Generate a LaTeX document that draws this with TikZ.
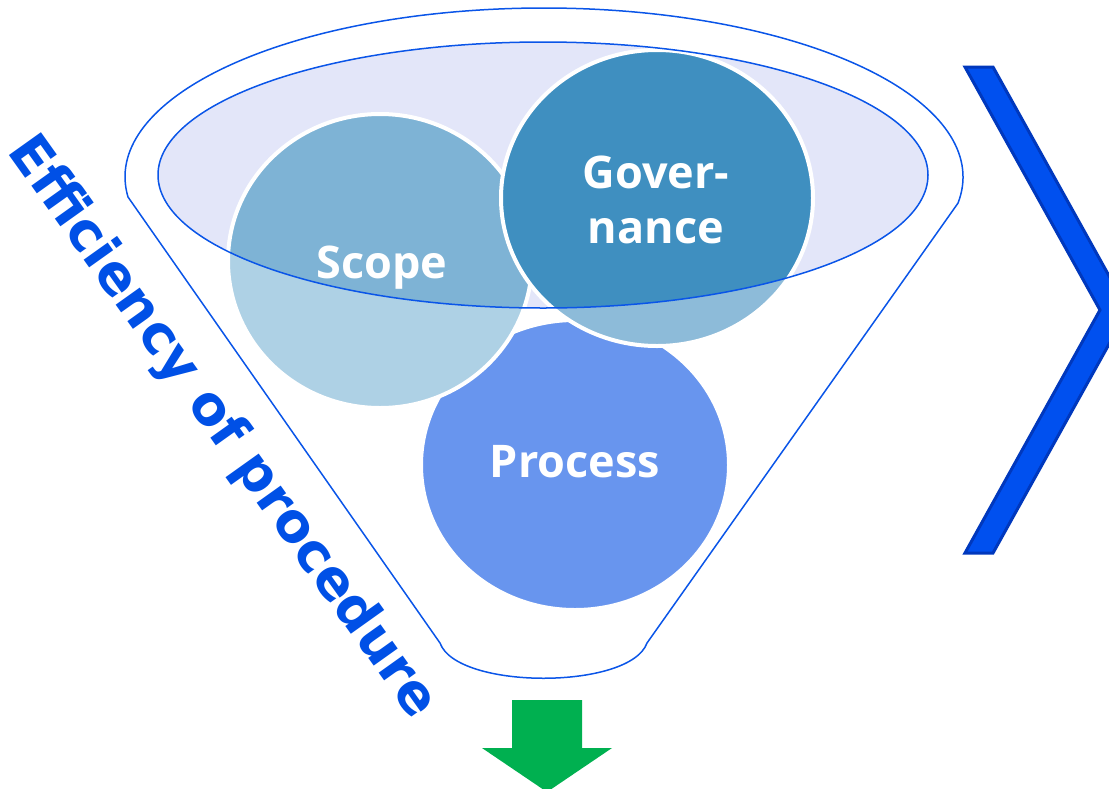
\documentclass[tikz,border=0pt]{standalone}
\usepackage{fontspec}
\setmainfont{Open Sans}
\newfontfamily\sidefont{DejaVu Sans}
\definecolor{lineBlue}{HTML}{0A55E8}
\definecolor{lavender}{HTML}{E3E6F9}
\definecolor{scopeLight}{HTML}{AED1E5}
\definecolor{scopeDark}{HTML}{7EB3D5}
\definecolor{govLight}{HTML}{8DBBD9}
\definecolor{govDark}{HTML}{3F8FC0}
\definecolor{procBlue}{HTML}{6895EE}
\definecolor{chevFill}{HTML}{0050EF}
\definecolor{chevEdge}{HTML}{0038BD}
\definecolor{textBlue}{HTML}{0050E6}
\definecolor{arrowGreen}{HTML}{00B050}
\begin{document}
\begin{tikzpicture}[x=1pt,y=-1pt,
  outline/.style={draw=lineBlue, line width=1.5},
  ring/.style={draw=white, line width=4},
  label text/.style={text=white, font=\bfseries\fontsize{45}{54}\selectfont, inner sep=0pt, anchor=base},
  side text/.style={text=textBlue, font=\sidefont\bfseries\fontsize{54}{64}\selectfont, inner sep=0pt}]
\path[use as bounding box] (0,0) rectangle (1109,788);
\clip (0,0) rectangle (1109,788);

% funnel body: upper rim arc, sloping sides and rounded spout
\coordinate (rimL) at (128,197);
\coordinate (spoutR) at (647,643);
\coordinate (spoutL) at (440,643);
\draw[outline] (rimL) arc[start angle=173.2, end angle=368.9, x radius=419, y radius=169]
  -- (spoutR) .. controls (630,690) and (457,690) .. (spoutL) -- cycle;

% inner mouth of the funnel
\fill[lavender] (543,175) ellipse [x radius=385, y radius=133];

% Process circle
\fill[procBlue] (575,465) ellipse [x radius=154, y radius=145];
\draw[ring] (575,465) ellipse [x radius=154, y radius=145];

% Scope circle, darker where it sits inside the mouth
\fill[scopeLight] (380,261) ellipse [x radius=152, y radius=147];
\begin{scope}
  \clip (543,175) ellipse [x radius=385, y radius=133];
  \fill[scopeDark] (380,261) ellipse [x radius=152, y radius=147];
\end{scope}
\draw[ring] (380,261) ellipse [x radius=152, y radius=147];

% Governance circle
\fill[govLight] (657,198) ellipse [x radius=156, y radius=148];
\begin{scope}
  \clip (543,175) ellipse [x radius=385, y radius=133];
  \fill[govDark] (657,198) ellipse [x radius=156, y radius=148];
\end{scope}
\draw[ring] (657,198) ellipse [x radius=156, y radius=148];

% rim line of the mouth on top
\draw[outline] (543,175) ellipse [x radius=385, y radius=133];

% circle labels
\node[label text] (scopeT) at (382,278) {Scope};
\node[label text] (govA) at (656,188) {Gover-};
\node[label text] (govB) at (656,243) {nance};
\node[label text] (procT) at (575,477) {Process};

% side caption
\node[side text, rotate=-54.5] (eff) at (222,428) {Efficiency of procedure};

% chevron on the right
\filldraw[fill=chevFill, draw=chevEdge, line width=3, line join=miter]
  (965,67) -- (993,67) -- (1128,310) -- (993,553) -- (965,553) -- (1100,310) -- cycle;

% output arrow below the spout
\fill[arrowGreen] (512,700) -- (582,700) -- (582,748) -- (612,748) -- (547,792)
  -- (482,748) -- (512,748) -- cycle;
\end{tikzpicture}
\end{document}
